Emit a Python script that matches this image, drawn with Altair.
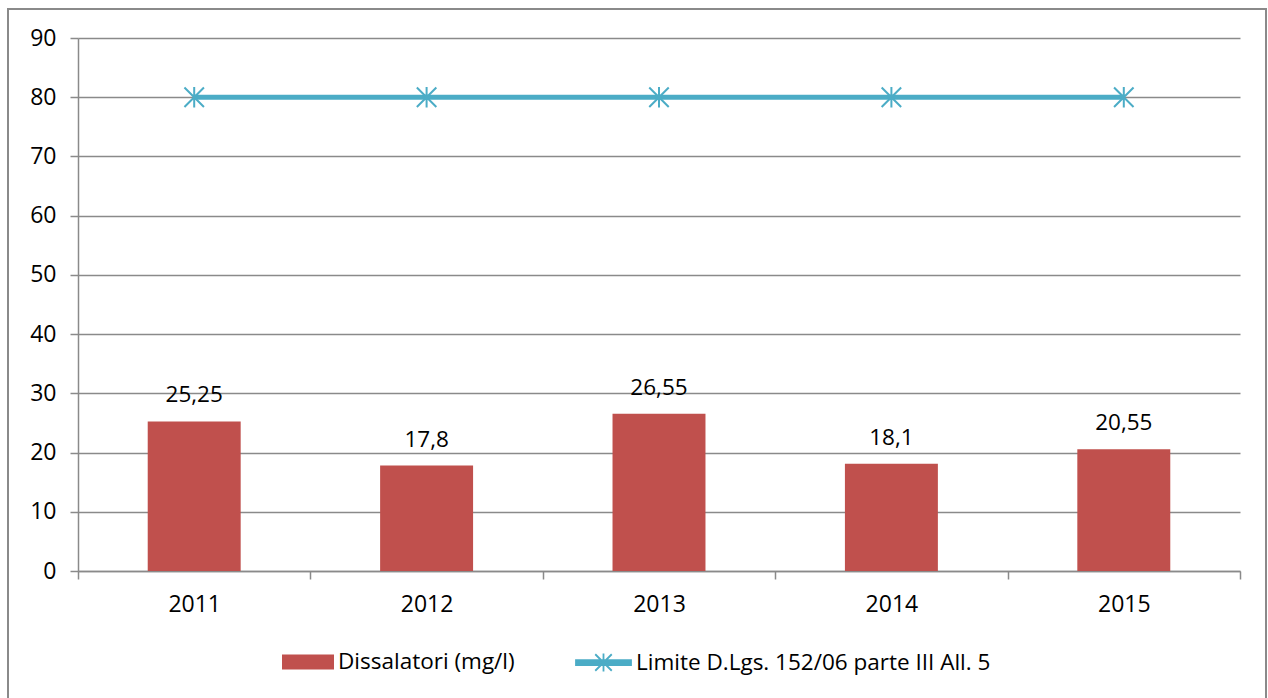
import altair as alt
import pandas as pd

# Annual values for the desalination plants and the legal limit
years = ["2011", "2012", "2013", "2014", "2015"]
dissalatori = [25.25, 17.8, 26.55, 18.1, 20.55]
limite = [80, 80, 80, 80, 80]

bar_series = "Dissalatori (mg/l)"
line_series = "Limite D.Lgs. 152/06 parte III All. 5"

RED = "#C0504D"
BLUE = "#4BACC6"
GRID = "#8a8a8a"
FONT = "Open Sans"
FS = 23

df = pd.DataFrame({
    "anno": years,
    "valore": dissalatori,
    "etichetta": [str(v).replace(".", ",") for v in dissalatori],
    "limite": limite,
    "s_bar": bar_series,
    "s_line": line_series,
})

x_enc = alt.X(
    "anno:N",
    title=None,
    scale=alt.Scale(paddingInner=0, paddingOuter=0),
    axis=alt.Axis(
        labelAngle=0, tickBand="extent", tickSize=8, tickColor=GRID,
        tickWidth=1.5, domainColor=GRID, domainWidth=1.5,
        labelFontSize=FS, labelFont=FONT, labelColor="black",
        labelPadding=14,
    ),
)

y_scale = alt.Scale(domain=[0, 90], nice=False)
y_axis = alt.Axis(
    values=list(range(0, 100, 10)), grid=True, gridColor=GRID, gridWidth=1.5,
    domainColor=GRID, domainWidth=1.5, tickColor=GRID, tickWidth=1.5,
    tickSize=8, labelPadding=14, labelFontSize=FS, labelFont=FONT,
    labelColor="black", title=None,
)

rect_symbol = "M-1,-0.29H1V0.29H-1Z"
line_symbol = ("M-1,-0.09H1V0.09H-1Z"
               "M-0.3,-0.3L0.3,0.3M-0.3,0.3L0.3,-0.3M0,-0.33V0.33")
star = "M-1,-1L1,1M-1,1L1,-1M0,-1.05V1.05"

bars = alt.Chart(df).mark_bar(width=alt.RelativeBandSize(0.4)).encode(
    x=x_enc,
    y=alt.Y("valore:Q", scale=y_scale, axis=y_axis),
    color=alt.Color(
        "s_bar:N",
        scale=alt.Scale(domain=[bar_series], range=[RED]),
        legend=alt.Legend(
            orient="none", legendX=204, legendY=598, title=None, padding=0,
            symbolType=rect_symbol, symbolSize=2704, symbolStrokeWidth=0,
            symbolOpacity=1, labelOffset=4, labelFontSize=22.5,
            labelFont=FONT, labelColor="black", labelLimit=600,
        ),
    ),
)

labels = alt.Chart(df).mark_text(
    baseline="alphabetic", dy=-19, fontSize=22.5, font=FONT, color="black"
).encode(x="anno:N", y=alt.Y("valore:Q", scale=y_scale), text="etichetta:N")

line = alt.Chart(df).mark_line(strokeWidth=5).encode(
    x="anno:N",
    y=alt.Y("limite:Q", scale=y_scale),
    stroke=alt.Stroke(
        "s_line:N",
        scale=alt.Scale(domain=[line_series], range=[BLUE]),
        legend=alt.Legend(
            orient="none", legendX=497, legendY=596, title=None, padding=0,
            symbolType=line_symbol, symbolSize=3025, symbolStrokeWidth=1.8,
            symbolFillColor=BLUE, symbolStrokeColor=BLUE, symbolOpacity=1,
            labelOffset=4, labelFontSize=22.5, labelFont=FONT,
            labelColor="black", labelLimit=600,
        ),
    ),
)

points = alt.Chart(df).mark_point(
    shape=star, size=380, filled=False, strokeWidth=2, color=BLUE, opacity=1
).encode(x="anno:N", y=alt.Y("limite:Q", scale=y_scale))

frame = alt.Chart(alt.Data(values=[{}])).mark_rect(
    filled=False, stroke="#8a8a8a", strokeWidth=2
).encode(
    x=alt.value(-70), x2=alt.value(1188), y=alt.value(-29), y2=alt.value(720)
)

chart = alt.layer(frame, bars, labels, line, points).properties(
    width=1162,
    height=533,
    autosize=alt.AutoSizeParams(type="none"),
    padding={"left": 78, "top": 38, "right": 28, "bottom": 127},
    background="white",
).configure_view(stroke=None)

chart.save("out.html", embed_options={"renderer": "svg", "actions": False})
